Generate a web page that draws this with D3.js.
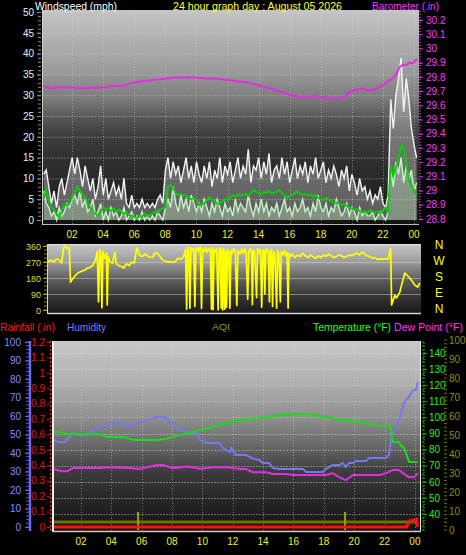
<!DOCTYPE html>
<html><head><meta charset="utf-8">
<script src="https://cdn.jsdelivr.net/npm/d3@7"></script>
<style>body{margin:0;background:#000;} svg{display:block;font-family:"Liberation Sans",Arial,sans-serif;}</style>
</head><body><svg id="c" width="466" height="555"></svg>
<script>
// ---------- DATA ----------
const titleText = "24 hour graph day : August 05 2026";
const tickHours = [2,4,6,8,10,12,14,16,18,20,22,24];
const tickLabels = ["02","04","06","08","10","12","14","16","18","20","22","00"];

// wind samples every 10 minutes from 00:10 to 24:10
const windTimes = d3.range(145).map(i => 0.17 + i / 6);
const windGust = [
 11,12,8,4,7,3,  8,10,6,9,12,15,  11,15,12,8,13,10,  7,10,5,8,13,6,
 10,5,7,9,6,8,  5,10,4,3,6,3,  4,3,5,3,4,3,  4,3,5,6,4,12,
 15,10,14,11,13,9,  12,15,10,13,9,14,  11,9,13,10,14,8,  12,10,15,9,13,11,
 14,9,12,15,10,13,  11,17,9,13,12,15,  10,14,11,16,9,12,  13,10,15,11,14,9,
 12,15,10,13,11,14,  9,13,11,15,10,12,  14,9,12,10,13,11,  8,12,10,13,7,11,
 9,6,10,7,8,5,  7,4,6,5,8,4,  3,6,29,22,30,34,  39,26,34,29,22,18,  15];
const windSpeed = [
 7,4,3,1,2,0,  3,1,2,4,3,5,  6,4,7,3,5,2,  3,5,1,2,4,0,
 2,0,3,1,2,0,  1,3,0,1,2,0,  1,0,2,0,1,0,  1,0,2,1,0,3,
 5,3,8,4,2,6,  3,5,2,6,4,2,  4,2,5,3,1,4,  2,5,3,1,4,2,
 3,1,5,2,4,3,  2,6,3,1,4,2,  5,2,4,1,3,2,  4,1,3,5,2,3,
 1,4,2,3,5,2,  3,1,4,2,6,3,  2,4,1,3,2,5,  3,1,2,4,1,3,
 2,0,3,1,2,1,  1,2,0,1,2,1,  0,2,12,8,14,11,  15,9,13,10,12,7,  9];
const windAvg = [
 5.3,7.2,4.5,3,2.5,1.5,  0.7,2,3.8,3.5,4,5.5,  6.5,8,7,6,5.5,4,  3,2,1.5,1,2,3,
 2.5,2.9,2.2,2.8,2,2.5,  2,1.5,1.8,1.2,1,0.7,  0.5,1,0.8,1.5,1,1.2,  1.5,2,1.8,2.5,2.8,3,
 8,8.4,7.5,6.5,6,6.3,  5.8,6,5.3,5,5.3,5,  3.6,3.8,4,4.8,5.5,5,  4.5,4,3.8,4.5,5,4.8,
 5.5,6,5.5,6.2,5.8,6,  6.3,5.8,6.5,7.2,6.8,6.5,  6.2,6.8,6.5,7,6.3,6.6,  6.8,7.2,6.5,6,5.3,5.8,
 6,6.5,7,6.2,6,6.3,  5.8,6.2,5.5,6,5.3,5,  4.8,5.3,5,4.5,4,4.2,  4,3.6,3.8,3.4,3,2.8,
 2.4,2.6,2.2,1.8,2,1.7,  2.4,2,1.7,2,1.7,2.4,  2.9,2,13,10.8,12.5,15,  18,17.5,13.7,9.6,8.4,7,  6];

// wind direction (hour, degrees)
const dirTimes = [
 0.17,0.33,0.5,0.67,0.83,1.0,1.17,1.33,1.45,1.55,1.7,1.82,1.9,2.0,
 2.17,2.33,2.5,2.67,2.83,3.0,3.17,3.33,3.5,3.62,3.7,3.78,3.86,3.92,3.98,4.1,4.22,4.26,4.32,4.45,4.6,4.75,4.85,5.0,
 5.17,5.33,5.5,5.67,5.83,6.0,6.17,6.33,6.5,6.67,6.83,7.0,7.17,7.33,7.5,7.67,7.83,8.0,8.17,8.33,8.5,8.67,8.83,9.0,9.17,
 9.3,9.37,9.44,9.51,9.58,9.65,9.75,9.83,9.9,9.97,10.05,10.15,10.25,10.33,10.4,10.5,10.6,10.7,10.8,10.9,10.97,11.02,11.07,11.13,
 11.2,11.3,11.4,11.46,11.53,11.6,11.65,11.7,11.76,11.83,11.88,11.94,12.0,12.08,12.15,12.22,12.3,12.4,12.5,12.6,12.67,12.8,12.9,
 13.0,13.1,13.2,13.3,13.37,13.47,13.55,13.6,13.66,13.75,13.87,13.93,14.05,14.12,14.2,14.27,14.35,14.4,14.46,14.55,14.63,14.7,
 14.76,14.83,14.9,14.96,15.05,15.16,15.22,15.3,15.4,15.46,15.55,15.65,15.75,15.83,15.9,15.96,16.05,
 16.17,16.33,16.5,16.67,16.83,17.0,17.17,17.33,17.5,17.67,17.83,18.0,18.17,18.33,18.5,18.67,18.83,19.0,19.17,19.33,19.5,19.67,19.83,
 20.0,20.17,20.33,20.5,20.67,20.83,21.0,21.17,21.33,21.5,21.67,21.83,22.0,22.17,22.33,22.5,22.56,22.77,22.87,23.09,23.2,23.41,
 23.73,23.92,24.05,24.24,24.37];
const dirValues = [
 264,264,275,281,270,287,281,264,350,360,345,350,157,170,
 190,205,214,220,225,236,240,250,280,330,45,340,300,13,330,290,320,28,300,270,264,326,260,250,
 245,236,260,250,270,265,349,310,300,315,305,298,296,320,318,300,281,276,270,272,268,275,292,285,300,
 340,5,355,330,10,350,335,345,20,340,350,330,355,8,345,330,350,325,345,335,5,350,2,340,
 325,345,0,335,350,10,340,0,345,5,330,15,340,325,10,335,320,345,330,25,335,315,340,
 320,345,325,60,330,345,320,30,340,325,70,345,320,340,15,330,340,90,325,345,320,45,
 335,340,20,330,315,10,335,320,45,330,310,335,305,325,10,320,300,
 315,295,310,300,320,305,295,310,300,290,305,295,310,300,315,305,295,300,310,305,295,300,310,
 305,315,320,310,325,315,305,300,290,295,285,288,285,290,285,345,28,84,67,101,140,208,
 180,157,140,129,152];

const baroTimes = [0.13,0.58,1.22,1.86,2.64,3.28,4.12,4.76,5.4,5.72,6.37,7.33,7.97,8.62,9.26,9.9,10.55,11.19,11.9,12.8,13.44,14.08,14.73,15.37,16.01,16.66,17.3,17.62,17.94,18.59,19.23,19.55,19.87,20.19,20.64,21.03,21.35,21.8,22.32,22.64,22.89,23.09,23.28,23.54,23.73,23.92,24.12,24.24];
const baroValues = [29.737,29.72,29.727,29.727,29.72,29.724,29.727,29.737,29.737,29.756,29.767,29.78,29.786,29.795,29.795,29.795,29.788,29.788,29.779,29.767,29.756,29.737,29.72,29.697,29.673,29.66,29.66,29.667,29.66,29.65,29.65,29.66,29.697,29.708,29.72,29.708,29.705,29.73,29.767,29.79,29.826,29.87,29.885,29.885,29.9,29.895,29.92,29.92];

const tempTimes = [0.09,0.62,1.08,2.27,3.25,3.72,4.9,5.43,7.0,7.54,8.53,9.18,9.84,10.7,11.55,12.2,12.67,13.3,13.8,14.3,14.85,15.3,15.77,16.2,16.63,17.0,17.42,18.14,19.06,20.31,21.43,22.42,22.48,22.55,22.94,23.07,23.27,23.41,23.61,24.2];
const tempValues = [90.9,90.9,89.6,89.6,89.6,87.8,87.8,85.9,85.9,86.5,89,90.5,92.1,94,96.5,97.5,98.3,99.2,99.5,100.5,100.8,101.6,101.5,102.2,102,101.8,101.2,100.2,98.5,97.1,95.2,94,88,84.7,84.7,82.5,81,78,72.5,72.2];

const humTimes = [0.16,0.49,0.95,1.48,1.94,2.4,3.06,3.72,4.24,4.77,5.03,5.43,6.35,7.0,7.54,7.87,8.33,8.53,9.18,9.64,9.84,10.3,11.16,11.36,11.83,11.9,12.2,12.87,13.33,13.73,14.0,14.39,14.65,15.05,16.63,16.83,17.94,18.14,18.6,19.0,19.26,19.46,19.66,19.92,20.12,20.78,20.98,22.09,22.29,22.42,22.55,22.75,23.02,23.28,23.54,23.87,24.07,24.2];
const humValues = [47,46,46,50.8,49.7,49.7,53.5,55.7,56.2,56.2,53.5,55.7,57.5,59.5,59.5,57,53.5,52.4,50.8,50.8,47,45.4,45.4,42.7,40.5,42.7,38.9,38.9,37,36.2,34.6,34.6,31.9,31.4,31.4,29.7,29.7,31.4,33.5,33.5,34.6,32.4,34.6,34.6,35.7,35.7,37.3,37.3,38.9,47,50.8,54,59.5,67,69.7,74,74,78.4];

const dewTimes = [0.16,0.75,1.08,1.48,3.25,3.72,5.23,5.89,7.0,7.41,8.07,8.99,9.38,9.84,10.7,11.62,12.48,12.87,13.33,14.19,14.65,15.51,15.97,18.14,18.6,19.0,19.46,19.92,21.7,22.09,22.55,22.94,23.22,23.61,23.94,24.2];
const dewValues = [67.9,66.6,66.6,68.5,68.5,69.1,68.5,68,70.4,70.4,68.5,69.5,69,67.9,69.1,69.1,67.9,67.9,66,66,64.8,64.8,64.2,64.2,65.4,62.9,61,64.2,64.2,65.4,67.3,67.3,65.4,62.9,62.9,65.4];

const rainTimes = [0.09,23.45,23.65,24.0,24.12,24.15];
const rainValues = [0,0,0.04,0.045,0.05,0];

const aqiTimes = [0.09,24.2];
const aqiValues = [4.2,4.2];
const aqiSpikeTimes = [5.76,19.4];
const aqiSpikeValues = [9.5,9.5];

// ---------- DRAW ----------
const svg = d3.select("#c");
svg.append("rect").attr("width",466).attr("height",555).attr("fill","#000");
const defs = svg.append("defs");
function grad(id, stops){
  const g = defs.append("linearGradient").attr("id",id).attr("x1",0).attr("x2",0).attr("y1",0).attr("y2",1);
  stops.forEach(([o,c]) => g.append("stop").attr("offset",o).attr("stop-color",c));
}
grad("gTop", [[0,"#c4c4c4"],[0.14,"#b0b0b0"],[0.28,"#9c9c9c"],[0.42,"#7a7a7a"],[0.49,"#5c5c5c"],[0.58,"#3e3e3e"],[0.7,"#303030"],[0.84,"#242424"],[1,"#141414"]]);
grad("gMid", [[0,"#c8c8c8"],[0.27,"#9a9a9a"],[0.5,"#606060"],[0.74,"#383838"],[1,"#1a1a1a"]]);
grad("gBot", [[0,"#c8c8c8"],[0.2,"#b2b2b2"],[0.42,"#8c8c8c"],[0.57,"#626262"],[0.68,"#3e3e3e"],[0.83,"#272727"],[1,"#141414"]]);
function clip(id,x,y,w,h){ defs.append("clipPath").attr("id",id).append("rect").attr("x",x).attr("y",y).attr("width",w).attr("height",h); }
function title(x,y,size,len,color,txt){
  svg.append("text").attr("x",x).attr("y",y).attr("font-size",size).attr("fill",color)
    .attr("textLength",len).attr("lengthAdjust","spacingAndGlyphs").text(txt);
}

// ===== TOP PANEL =====
const T = {x0:43, x1:419, y0:10, y1:224};
const xTop = d3.scaleLinear().domain([0,24]).range([41,414]);
const yWind = d3.scaleLinear().domain([0,50]).range([220,12]);
const yBaro = d3.scaleLinear().domain([28.8,30.2]).range([219,20]);
clip("cTop", T.x0, T.y0, T.x1-T.x0, T.y1-T.y0);
svg.append("rect").attr("x",T.x0).attr("y",T.y0).attr("width",T.x1-T.x0).attr("height",T.y1-T.y0).attr("fill","url(#gTop)");
const gTop = svg.append("g").attr("clip-path","url(#cTop)");
gTop.selectAll(".hg").data(d3.range(5,55,5)).join("line").attr("x1",T.x0).attr("x2",T.x1)
  .attr("y1",d=>yWind(d)+0.5).attr("y2",d=>yWind(d)+0.5).attr("stroke","#d8d8d8").attr("stroke-opacity",0.35).attr("stroke-dasharray","2,1");
gTop.selectAll(".vg").data(tickHours).join("line").attr("y1",T.y0).attr("y2",T.y1)
  .attr("x1",d=>Math.round(xTop(d))+0.5).attr("x2",d=>Math.round(xTop(d))+0.5).attr("stroke","#e0e0e0").attr("stroke-opacity",0.45).attr("stroke-dasharray","1,2");
const wIdx = d3.range(windTimes.length);
gTop.append("path").datum(wIdx).attr("fill","#ffffff").attr("fill-opacity",0.3)
  .attr("d", d3.area().x(i=>xTop(windTimes[i])).y0(yWind(0)).y1(i=>yWind(windGust[i])));
gTop.append("path").datum(wIdx).attr("fill","none").attr("stroke","#f4f4f4").attr("stroke-width",1.4)
  .attr("d", d3.line().x(i=>xTop(windTimes[i])).y(i=>yWind(windGust[i])));
gTop.append("path").datum(wIdx).attr("fill","#c8f2c8").attr("fill-opacity",0.35)
  .attr("d", d3.area().x(i=>xTop(windTimes[i])).y0(yWind(0)).y1(i=>yWind(windSpeed[i])));
gTop.append("path").datum(wIdx).attr("fill","none").attr("stroke","#c8f2c8").attr("stroke-width",1.4)
  .attr("d", d3.line().x(i=>xTop(windTimes[i])).y(i=>yWind(windSpeed[i])));
gTop.append("path").datum(wIdx).attr("fill","none").attr("stroke","#10c810").attr("stroke-width",2)
  .attr("d", d3.line().x(i=>xTop(windTimes[i])).y(i=>yWind(windAvg[i])));
gTop.append("path").datum(d3.range(baroTimes.length)).attr("fill","none").attr("stroke","#e22ee2").attr("stroke-width",2)
  .attr("d", d3.line().x(i=>xTop(baroTimes[i])).y(i=>yBaro(baroValues[i])));
svg.append("line").attr("x1",T.x0-0.5).attr("x2",T.x0-0.5).attr("y1",T.y0).attr("y2",T.y1+1).attr("stroke","#d0d0d0");
svg.append("line").attr("x1",T.x0).attr("x2",T.x1).attr("y1",T.y1+0.5).attr("y2",T.y1+0.5).attr("stroke","#bdbdbd");
const axL = svg.append("g").attr("transform",`translate(${T.x0-2},0)`)
  .call(d3.axisLeft(yWind).tickValues(d3.range(0,51,5)).tickSize(4).tickPadding(3));
axL.select(".domain").remove();
axL.selectAll("line").attr("stroke","#9a9a9a");
axL.selectAll("text").attr("fill","#e6eeff").attr("font-size",10);
svg.append("g").selectAll("line").data(d3.range(0,51,1)).join("line").attr("x1",T.x0-5).attr("x2",T.x0-2)
  .attr("y1",d=>yWind(d)+0.5).attr("y2",d=>yWind(d)+0.5).attr("stroke","#8a8a8a");
const axR = svg.append("g").attr("transform",`translate(${T.x1},0)`)
  .call(d3.axisRight(yBaro).tickValues(d3.range(28.8,30.25,0.1)).tickFormat(d=>d3.format(".1f")(d).replace(/\.0$/,"")).tickSize(4).tickPadding(3));
axR.select(".domain").remove();
axR.selectAll("line").attr("stroke","#e040e0");
axR.selectAll("text").attr("fill","#ff3cff").attr("font-size",10);
svg.append("g").selectAll("line").data(d3.range(28.8,30.27,0.02)).join("line").attr("x1",T.x1).attr("x2",T.x1+2)
  .attr("y1",d=>yBaro(d)).attr("y2",d=>yBaro(d)).attr("stroke","#c030c0");
svg.append("g").selectAll("text").data(tickHours).join("text").attr("x",d=>xTop(d)).attr("y",238)
  .attr("text-anchor","middle").attr("font-size",10).attr("fill","#f0f020").text((d,i)=>tickLabels[i]);
title(35,10,11,82,"#ffffff","Windspeed (mph)");
title(173,10,11,169,"#ffff22",titleText);
title(372,10,11,67,"#ff33ff","Barometer (.in)");

// ===== MIDDLE PANEL =====
const M = {x0:48, x1:421, y0:244, y1:313};
const yDir = d3.scaleLinear().domain([0,360]).range([310,246]);
clip("cMid", M.x0, M.y0, M.x1-M.x0, M.y1-M.y0);
svg.append("rect").attr("x",M.x0).attr("y",M.y0).attr("width",M.x1-M.x0).attr("height",M.y1-M.y0).attr("fill","url(#gMid)");
const gMid = svg.append("g").attr("clip-path","url(#cMid)");
gMid.selectAll(".hg").data([90,180,270]).join("line").attr("x1",M.x0).attr("x2",M.x1)
  .attr("y1",d=>yDir(d)+0.5).attr("y2",d=>yDir(d)+0.5).attr("stroke","#dddddd").attr("stroke-opacity",0.45);
gMid.append("path").datum(d3.range(dirTimes.length)).attr("fill","none").attr("stroke","#ffff00").attr("stroke-width",1.7).attr("stroke-linejoin","round")
  .attr("d", d3.line().x(i=>xTop(dirTimes[i])).y(i=>yDir(dirValues[i])));
svg.append("line").attr("x1",M.x0-0.5).attr("x2",M.x0-0.5).attr("y1",M.y0).attr("y2",M.y1+1).attr("stroke","#d8d8d8");
svg.append("line").attr("x1",M.x0).attr("x2",M.x1).attr("y1",M.y1+0.5).attr("y2",M.y1+0.5).attr("stroke","#d0d0d0").attr("stroke-width",1.5);
svg.append("line").attr("x1",M.x0).attr("x2",M.x1).attr("y1",M.y0+0.5).attr("y2",M.y0+0.5).attr("stroke","#e0e0e0");
const axD = svg.append("g").attr("transform",`translate(${M.x0-1},0)`)
  .call(d3.axisLeft(yDir).tickValues([0,90,180,270,360]).tickSize(4).tickPadding(2));
axD.select(".domain").remove();
axD.selectAll("line").attr("stroke","#a0a020");
axD.selectAll("text").attr("fill","#dede30").attr("font-size",9).attr("dy","0.35em");
svg.append("g").selectAll("line").data(d3.range(0,361,22.5)).join("line").attr("x1",M.x0-4).attr("x2",M.x0-1)
  .attr("y1",d=>yDir(d)).attr("y2",d=>yDir(d)).attr("stroke","#8a8a10");
const compass = ["N","W","S","E","N"];
const compassDeg = [360,270,180,90,0];
svg.append("g").selectAll("text").data(compass).join("text").attr("x",439).attr("text-anchor","middle")
  .attr("y",(d,i)=>yDir(compassDeg[i])+3).attr("font-size",12).attr("fill","#ffff00").text(d=>d);

// ===== BOTTOM PANEL =====
const B = {x0:52, x1:421, y0:341, y1:531};
const xBot = d3.scaleLinear().domain([0,24]).range([50.6,414.9]);
const yHum = d3.scaleLinear().domain([0,100]).range([527,342]);
const yRain = d3.scaleLinear().domain([0,1.2]).range([527,342]);
const yTemp = d3.scaleLinear().domain([40,140]).range([514,353]);
const yAqi = d3.scaleLinear().domain([0,100]).range([530,340]);
clip("cBot", B.x0, B.y0, B.x1-B.x0, B.y1-B.y0);
svg.append("rect").attr("x",B.x0).attr("y",B.y0).attr("width",B.x1-B.x0).attr("height",B.y1-B.y0).attr("fill","url(#gBot)");
const gBot = svg.append("g").attr("clip-path","url(#cBot)");
gBot.selectAll(".hg").data(d3.range(40,150,10)).join("line").attr("x1",B.x0).attr("x2",B.x1)
  .attr("y1",d=>Math.round(yTemp(d))+0.5).attr("y2",d=>Math.round(yTemp(d))+0.5).attr("stroke","#dddddd").attr("stroke-opacity",0.4).attr("stroke-dasharray","2,1");
gBot.selectAll(".vg").data(tickHours).join("line").attr("y1",B.y0).attr("y2",B.y1)
  .attr("x1",d=>Math.round(xBot(d))+0.5).attr("x2",d=>Math.round(xBot(d))+0.5).attr("stroke","#e0e0e0").attr("stroke-opacity",0.45).attr("stroke-dasharray","1,2");
function lineOf(times, vals, ys){ return d3.line().x(i=>xBot(times[i])).y(i=>ys(vals[i]))(d3.range(times.length)); }
gBot.append("path").attr("d",lineOf(aqiTimes,aqiValues,yAqi)).attr("fill","none").attr("stroke","#8c8c00").attr("stroke-opacity",0.75).attr("stroke-width",3);
gBot.selectAll(".aqs").data(aqiSpikeTimes).join("line").attr("x1",d=>xBot(d)).attr("x2",d=>xBot(d))
  .attr("y1",yAqi(0)).attr("y2",(d,i)=>yAqi(aqiSpikeValues[i])).attr("stroke","#a0a000").attr("stroke-width",2);
gBot.append("path").attr("d",lineOf(rainTimes,rainValues,yRain)).attr("fill","none").attr("stroke","#ff1010").attr("stroke-width",3);
gBot.append("path").attr("d",lineOf(dewTimes,dewValues,yTemp)).attr("fill","none").attr("stroke","#e030e0").attr("stroke-width",2);
gBot.append("path").attr("d",lineOf(humTimes,humValues,yHum)).attr("fill","none").attr("stroke","#7878f0").attr("stroke-width",2);
gBot.append("path").attr("d",lineOf(tempTimes,tempValues,yTemp)).attr("fill","none").attr("stroke","#18dd18").attr("stroke-width",2);
svg.append("line").attr("x1",B.x0+1).attr("x2",B.x0+1).attr("y1",B.y0).attr("y2",B.y1).attr("stroke","#f0f0f0").attr("stroke-width",2);
svg.append("line").attr("x1",B.x1-0.5).attr("x2",B.x1-0.5).attr("y1",B.y0).attr("y2",B.y1).attr("stroke","#e8e8e8");
svg.append("line").attr("x1",B.x0).attr("x2",B.x1).attr("y1",B.y1+0.5).attr("y2",B.y1+0.5).attr("stroke","#c8c8c8").attr("stroke-width",1.5);
svg.append("line").attr("x1",30).attr("x2",30).attr("y1",B.y0).attr("y2",B.y1).attr("stroke","#6a6af0").attr("stroke-width",2.5);
const axH = svg.append("g").attr("transform","translate(29,0)")
  .call(d3.axisLeft(yHum).tickValues(d3.range(0,101,10)).tickSize(4).tickPadding(4));
axH.select(".domain").remove();
axH.selectAll("line").attr("stroke","#6a6af0");
axH.selectAll("text").attr("fill","#8a8aff").attr("font-size",10);
svg.append("g").selectAll("line").data(d3.range(0,101,2)).join("line").attr("x1",26).attr("x2",29)
  .attr("y1",d=>yHum(d)).attr("y2",d=>yHum(d)).attr("stroke","#5a5ad8");
svg.append("line").attr("x1",50.5).attr("x2",50.5).attr("y1",B.y0).attr("y2",B.y1).attr("stroke","#ff2020").attr("stroke-dasharray","2,2");
const axRn = svg.append("g").attr("transform","translate(50,0)")
  .call(d3.axisLeft(yRain).tickValues(d3.range(0,1.25,0.1)).tickFormat(d=>d3.format(".1f")(d).replace(/^0$|\.0$/,"").replace(/^$/,"0")).tickSize(3).tickPadding(2));
axRn.select(".domain").remove();
axRn.selectAll("line").attr("stroke","#ee1010");
axRn.selectAll("text").attr("fill","#ee1010").attr("font-size",10);
svg.append("line").attr("x1",423).attr("x2",423).attr("y1",B.y0).attr("y2",B.y1).attr("stroke","#10c010").attr("stroke-dasharray","2,2");
const axT = svg.append("g").attr("transform","translate(423,0)")
  .call(d3.axisRight(yTemp).tickValues(d3.range(40,141,10)).tickSize(4).tickPadding(2));
axT.select(".domain").remove();
axT.selectAll("line").attr("stroke","#10c010");
axT.selectAll("text").attr("fill","#22ee22").attr("font-size",10);
svg.append("g").selectAll("line").data(d3.range(30,147,2)).join("line").attr("x1",423).attr("x2",425)
  .attr("y1",d=>yTemp(d)).attr("y2",d=>yTemp(d)).attr("stroke","#10a010");
svg.append("g").selectAll("line").data(d3.range(0,101,2)).join("line").attr("x1",444).attr("x2",447)
  .attr("y1",d=>yAqi(d)).attr("y2",d=>yAqi(d)).attr("stroke","#6e6e00");
const axA = svg.append("g").attr("transform","translate(447,0)")
  .call(d3.axisRight(yAqi).tickValues(d3.range(0,101,10)).tickSize(0).tickPadding(2));
axA.select(".domain").remove();
axA.selectAll("text").attr("fill","#8e8e00").attr("font-size",10);
svg.append("g").selectAll("text").data(tickHours).join("text").attr("x",d=>xBot(d)).attr("y",545)
  .attr("text-anchor","middle").attr("font-size",10).attr("fill","#f0f020").text((d,i)=>tickLabels[i]);
title(0,331,11,55,"#ff1a1a","Rainfall (.in)");
title(67,331,11,39,"#7b7bff","Humidity");
title(212,330,9,18,"#999922","AQI");
title(313,331,11,78,"#22ff22","Temperature (°F)");
title(394,331,11,69,"#ff33ff","Dew Point (°F)");
</script></body></html>
